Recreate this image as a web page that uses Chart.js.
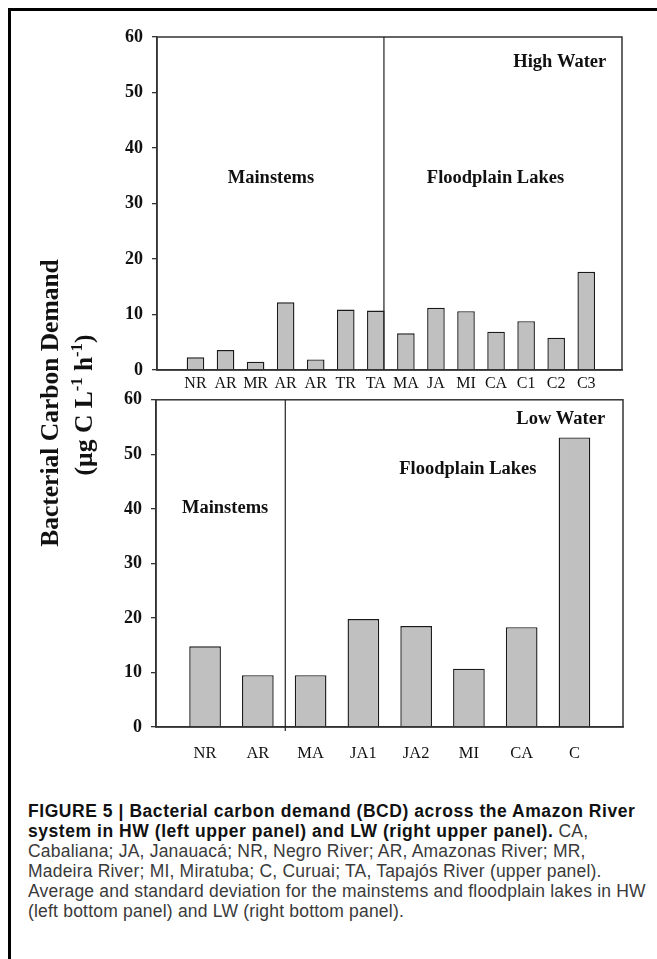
<!DOCTYPE html>
<html>
<head>
<meta charset="utf-8">
<script src="https://cdn.jsdelivr.net/npm/chart.js@4.4.1/dist/chart.umd.min.js"></script>
<style>
    body{
        margin:0;
        background:#fff;
        width:657px;
        height:959px;
        position:relative;
        overflow:hidden;
    }
    .frame{
        position:absolute;
        left:8px;
        top:8px;
        right:-10px;
        bottom:-10px;
        border-left:3px solid #000;
        border-top:3px solid #000;
    }
    .chart-box{
        position:absolute;
        left:0;
        width:657px;
        height:400px;
    }
    .y-title{
        position:absolute;
        font-family:"Liberation Serif", serif;
        font-weight:bold;
        font-size:25.5px;
        color:#111;
        white-space:nowrap;
        transform:translate(-50%,-50%) rotate(-90deg);
    }
    .y-title sup{
        font-size:65%;
    }
    .caption{
        position:absolute;
        left:28px;
        top:801px;
        font-family:"Liberation Sans", Arial, sans-serif;
        font-size:17.5px;
        letter-spacing:0.2px;
        line-height:20px;
        color:#3a3a3a;
        white-space:nowrap;
    }
    .caption b{
        color:#111;
        letter-spacing:0.55px;
    }
</style>
</head>
<body>

<div class="frame"></div>

<div class="chart-box" style="top:0">
    <canvas id="hwChart" width="657" height="400"></canvas>
</div>

<div class="chart-box" style="top:380px">
    <canvas id="lwChart" width="657" height="400"></canvas>
</div>

<div class="y-title" style="left:50px;top:403px">Bacterial Carbon Demand</div>
<div class="y-title" style="left:83px;top:405px">(µg C L<sup>-1</sup> h<sup>-1</sup>)</div>

<div class="caption">
    <b>FIGURE 5 | Bacterial carbon demand (BCD) across the Amazon River</b><br>
    <b>system in HW (left upper panel) and LW (right upper panel).</b> CA,<br>
    Cabaliana; JA, Janauacá; NR, Negro River; AR, Amazonas River; MR,<br>
    Madeira River; MI, Miratuba; C, Curuai; TA, Tapajós River (upper panel).<br>
    Average and standard deviation for the mainstems and floodplain lakes in HW<br>
    (left bottom panel) and LW (right bottom panel).
</div>

<script>

/* =========================
   DATA
========================= */

const hwSites = ["NR","AR","MR","AR","AR","TR","TA","MA","JA","MI","CA","C1","C2","C3"];
const hwBcd = [2.3,3.6,1.5,12.2,1.9,10.9,10.7,6.6,11.2,10.6,6.9,8.8,5.8,17.7];

const lwSites = ["NR","AR","MA","JA1","JA2","MI","CA","C"];
const lwBcd = [14.8,9.5,9.5,19.8,18.5,10.7,18.3,53.1];

const yTicks = [0,10,20,30,40,50,60];

const serif = '"Liberation Serif", "Times New Roman", serif';
const ink = "#111";

/* =========================
   PANEL PLUGIN
   (frame, divider, labels)
========================= */

const panelPlugin = {

    id: "panel",

    afterDraw(chart, args, opts){

        const ctx = chart.ctx;
        const area = chart.chartArea;
        const xs = chart.scales.x;
        const ys = chart.scales.y;

        ctx.save();

        ctx.strokeStyle = "#333";
        ctx.lineWidth = 1.5;
        ctx.strokeRect(area.left, area.top, area.right - area.left, area.bottom - area.top);

        const dx = xs.getPixelForValue(opts.divider);

        ctx.strokeStyle = "#222";
        ctx.lineWidth = 1.2;
        ctx.beginPath();
        ctx.moveTo(dx, area.top);
        ctx.lineTo(dx, area.bottom + opts.dividerTail);
        ctx.stroke();

        ctx.fillStyle = ink;
        ctx.font = "bold 18.5px " + serif;
        ctx.textAlign = "center";
        ctx.textBaseline = "middle";

        opts.notes.forEach(n => {
            ctx.fillText(n.text, xs.getPixelForValue(n.x), ys.getPixelForValue(n.y));
        });

        ctx.restore();

    }

};

/* =========================
   CHART BUILDER
========================= */

function makePanel(id, sites, values, cfg){

    return new Chart(document.getElementById(id), {

        type: "bar",

        data: {

            datasets: [{

                data: values.map((v, i) => ({ x: i, y: v })),

                backgroundColor: "#c0c0c0",
                borderColor: "#1a1a1a",
                borderWidth: 1.4,

                categoryPercentage: 1,
                barPercentage: cfg.barPct

            }]

        },

        options: {

            responsive: false,
            animation: false,

            layout: {
                padding: cfg.padding
            },

            plugins: {

                legend: { display: false },
                tooltip: { enabled: false },

                panel: {
                    divider: cfg.divider,
                    dividerTail: cfg.dividerTail,
                    notes: cfg.notes
                }

            },

            scales: {

                x: {

                    type: "linear",
                    offset: false,
                    min: cfg.xMin,
                    max: cfg.xMax,

                    afterBuildTicks: s => {
                        s.ticks = sites.map((_, i) => ({ value: i }));
                    },

                    afterFit: s => { s.height = cfg.xHeight; },

                    grid: { display: false, drawTicks: false },

                    border: { display: true, color: "#333", width: 1.5 },

                    ticks: {
                        callback: v => sites[v],
                        font: { family: serif, size: cfg.xFont },
                        color: ink,
                        padding: cfg.xPad,
                        maxRotation: 0,
                        autoSkip: false
                    }

                },

                y: {

                    min: yTicks[0],
                    max: yTicks[yTicks.length - 1],

                    afterBuildTicks: s => {
                        s.ticks = yTicks.map(v => ({ value: v }));
                    },

                    afterFit: s => { s.width = cfg.yWidth; },

                    grid: {
                        drawOnChartArea: false,
                        drawTicks: true,
                        tickLength: 5,
                        color: "#333",
                        lineWidth: 1.3
                    },

                    border: { display: true, color: "#333", width: 1.5 },

                    ticks: {
                        font: { family: serif, size: 18, weight: "bold" },
                        color: ink,
                        padding: 9
                    }

                }

            }

        },

        plugins: [panelPlugin]

    });

}

/* =========================
   HIGH WATER
========================= */

makePanel("hwChart", hwSites, hwBcd, {

    barPct: 0.585,
    xMin: -1.28,
    xMax: 14.19,
    yWidth: 157,
    xHeight: 30,
    xFont: 16,
    xPad: 4,
    padding: { top: 37, right: 35, bottom: 0, left: 0 },
    divider: 6.27,
    dividerTail: 0,

    notes: [
        { text: "Mainstems", x: 2.51, y: 34.6 },
        { text: "Floodplain Lakes", x: 9.98, y: 34.6 },
        { text: "High Water", x: 12.12, y: 55.5 }
    ]

});

/* =========================
   LOW WATER
========================= */

makePanel("lwChart", lwSites, lwBcd, {

    barPct: 0.6,
    xMin: -0.93,
    xMax: 7.92,
    yWidth: 156,
    xHeight: 53,
    xFont: 16.5,
    xPad: 17,
    padding: { top: 17, right: 34, bottom: 0, left: 0 },
    divider: 1.52,
    dividerTail: 4,

    notes: [
        { text: "Mainstems", x: 0.38, y: 40.2 },
        { text: "Floodplain Lakes", x: 4.98, y: 47.2 },
        { text: "Low Water", x: 6.74, y: 56.4 }
    ]

});

</script>
</body>
</html>
